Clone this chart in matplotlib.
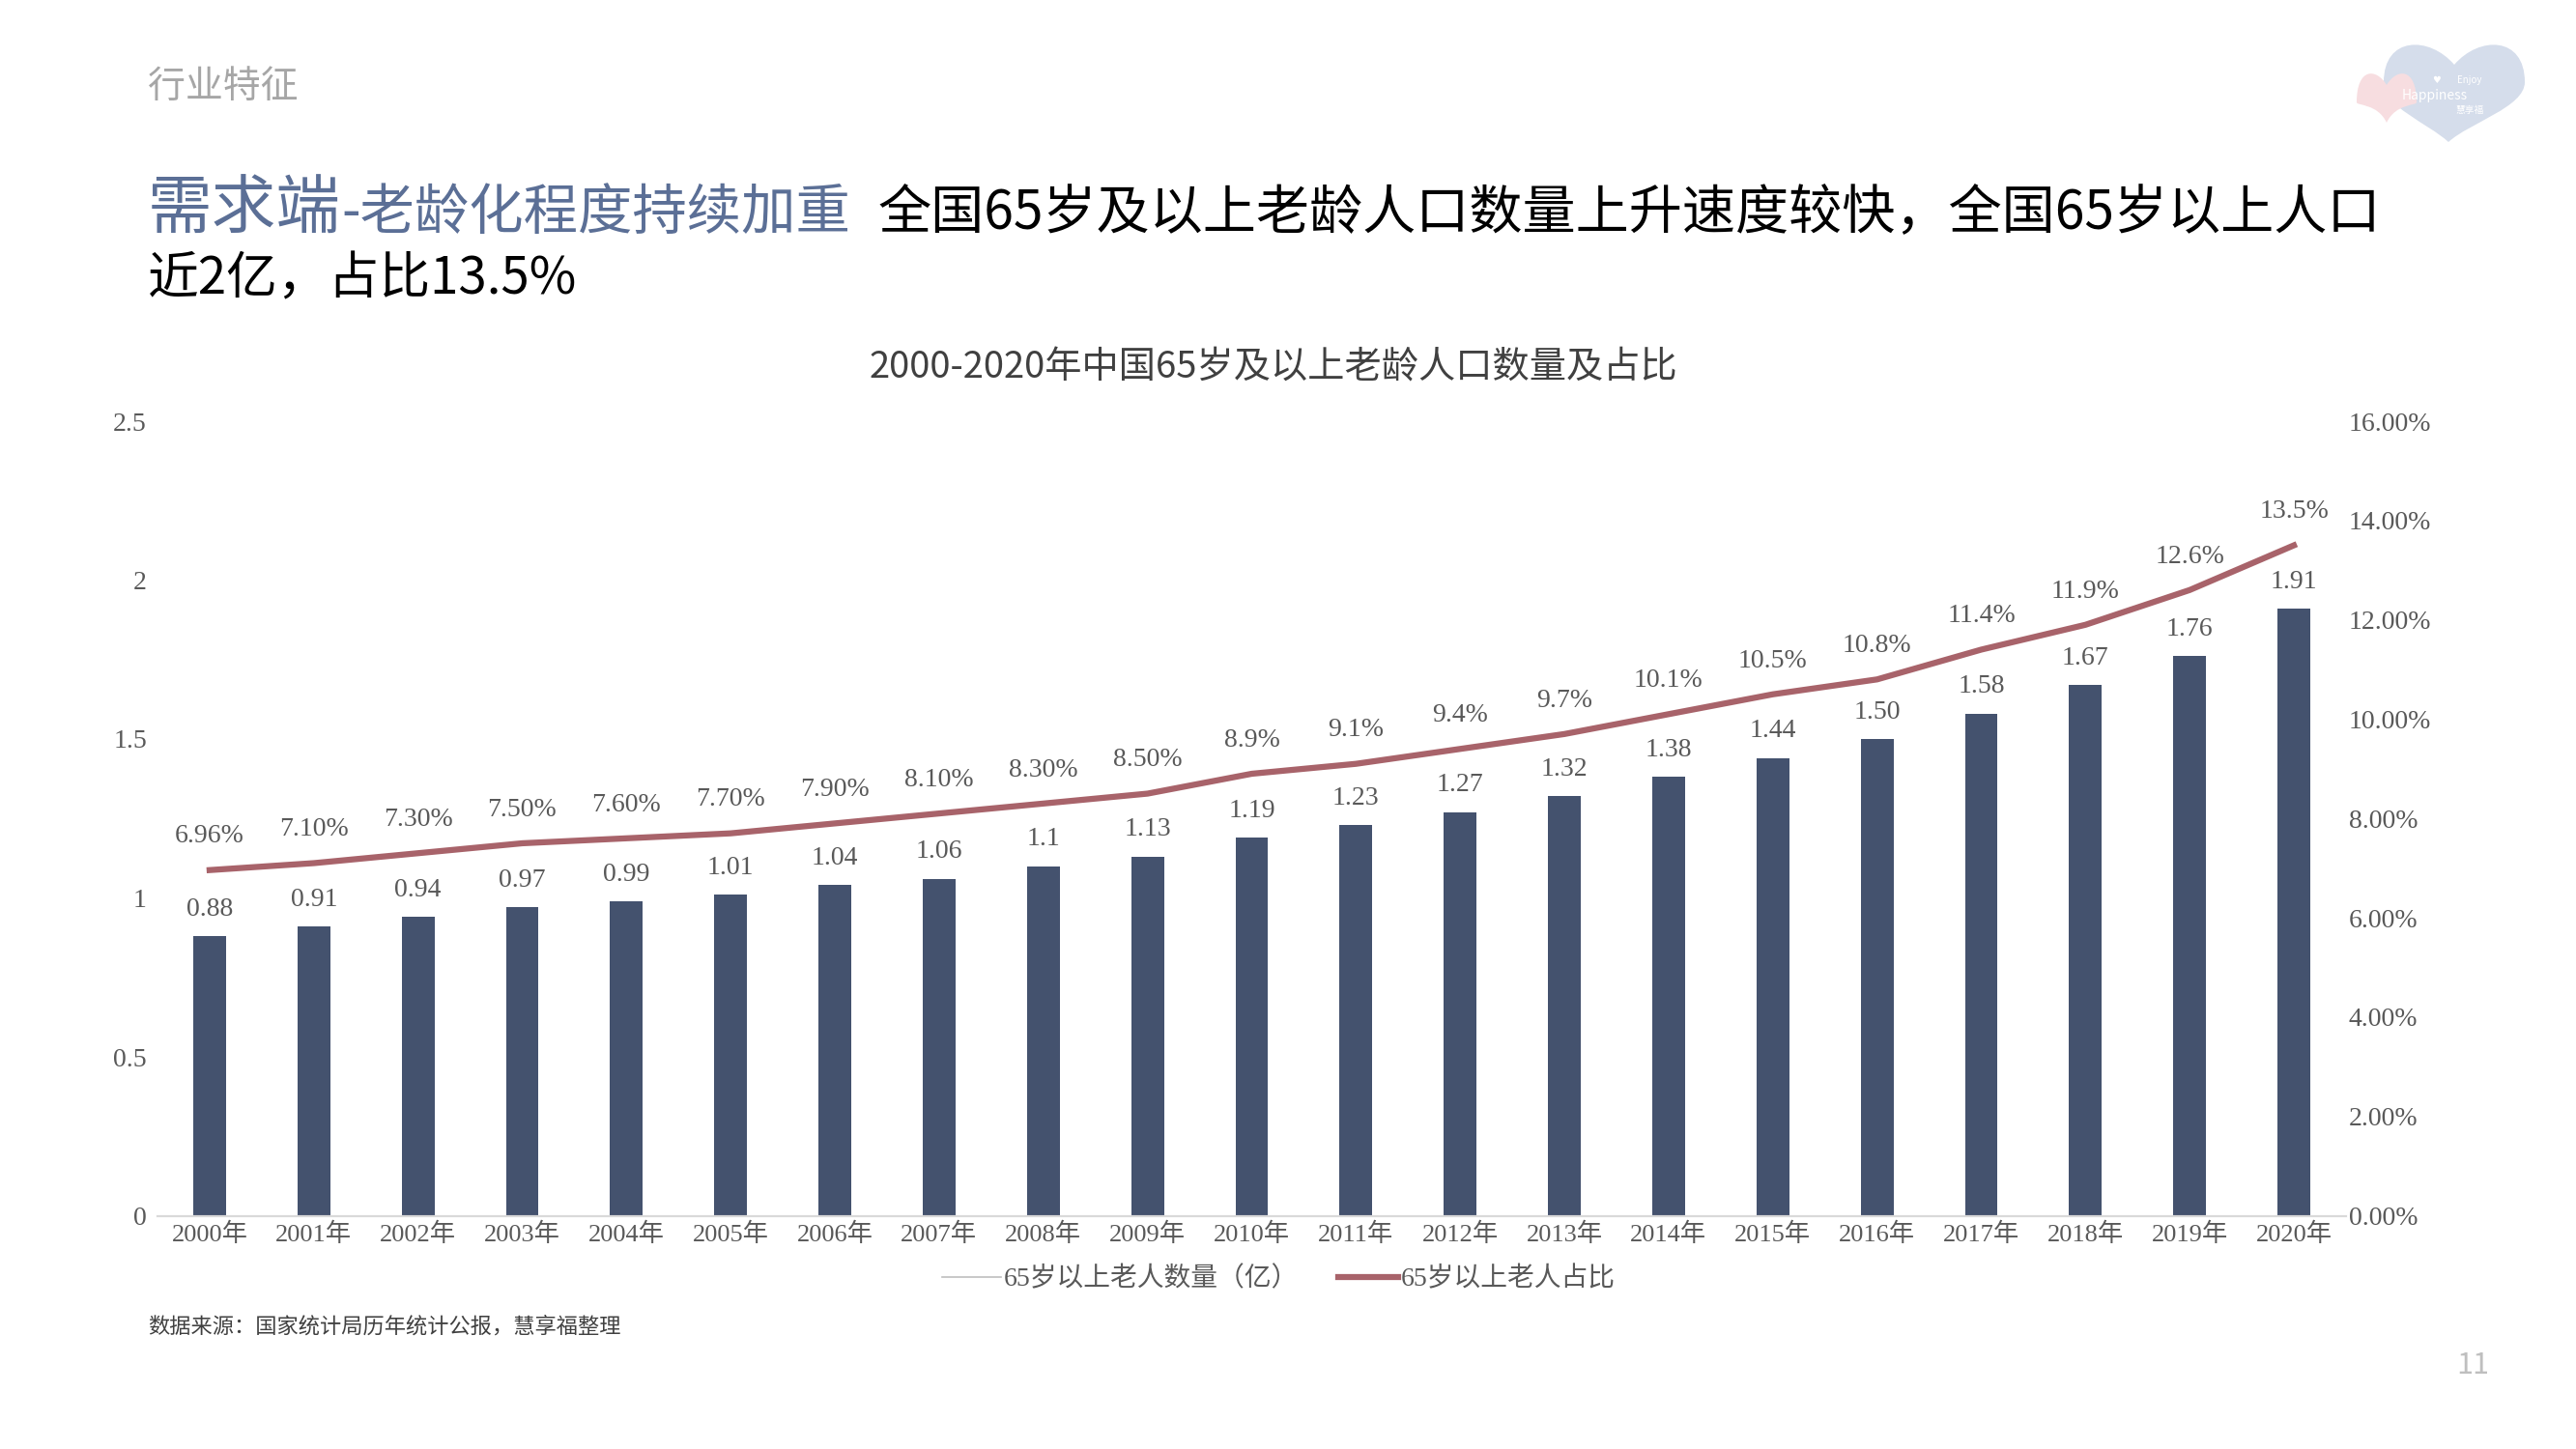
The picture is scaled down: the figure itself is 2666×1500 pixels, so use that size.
"""
2000-2020 China 65+ population slide, bars plus share line on a second axis.
"""

import matplotlib
matplotlib.use('Agg')
import matplotlib.pyplot as plt
from matplotlib.lines import Line2D
from matplotlib.patches import PathPatch
from matplotlib.path import Path

# ── Data ────────────────────────────────────────────────────────────────────
YEARS = [f"{y}年" for y in range(2000, 2021)]
POP = [0.88, 0.91, 0.94, 0.97, 0.99, 1.01, 1.04, 1.06, 1.10, 1.13, 1.19,
       1.23, 1.27, 1.32, 1.38, 1.44, 1.50, 1.58, 1.67, 1.76, 1.91]
POP_LABELS = ['0.88', '0.91', '0.94', '0.97', '0.99', '1.01', '1.04', '1.06', '1.1', '1.13', '1.19',
              '1.23', '1.27', '1.32', '1.38', '1.44', '1.50', '1.58', '1.67', '1.76', '1.91']
SHARE = [6.96, 7.1, 7.3, 7.5, 7.6, 7.7, 7.9, 8.1, 8.3, 8.5, 8.9,
         9.1, 9.4, 9.7, 10.1, 10.5, 10.8, 11.4, 11.9, 12.6, 13.5]
SHARE_LABELS = ['6.96%', '7.10%', '7.30%', '7.50%', '7.60%', '7.70%', '7.90%', '8.10%', '8.30%', '8.50%', '8.9%',
                '9.1%', '9.4%', '9.7%', '10.1%', '10.5%', '10.8%', '11.4%', '11.9%', '12.6%', '13.5%']
LEFT_TICKS = [0, 0.5, 1, 1.5, 2, 2.5]
LEFT_LABELS = ['0', '0.5', '1', '1.5', '2', '2.5']
RIGHT_TICKS = [0, 2, 4, 6, 8, 10, 12, 14, 16]
RIGHT_LABELS = ['0.00%', '2.00%', '4.00%', '6.00%', '8.00%', '10.00%', '12.00%', '14.00%', '16.00%']

# ── Config ──────────────────────────────────────────────────────────────────
W, H = 2666, 1500
SANS = ['Noto Sans CJK SC', 'DejaVu Sans']
SERIF = ['Liberation Serif', 'Noto Sans CJK SC']
BAR = '#44526E'
LINE = '#A8636A'
TICK = '#595959'
HEAD = '#5B6F96'

plt.rcParams['font.family'] = SANS

def put(x, y, s, **kw):
    # x, y in output pixels from the top left
    return fig.text(x / W, 1 - y / H, s, **kw)

fig = plt.figure(figsize=(W / 100, H / 100), dpi=100, facecolor='white')
ax = fig.add_axes([163 / W, 1 - 1258.5 / H, (2428 - 163) / W, (1258.5 - 436) / H])
ax2 = ax.twinx()

x = list(range(len(YEARS)))
ax.bar(x, POP, width=0.315, color=BAR, zorder=2)
ax.set_xlim(-0.5, 20.5)
ax.set_ylim(0, 2.5)
ax.set_xticks(x)
ax.set_xticklabels(YEARS, family=SERIF, fontsize=19, color=TICK)
ax.set_yticks(LEFT_TICKS)
ax.set_yticklabels(LEFT_LABELS, family=SERIF, fontsize=20, color=TICK)

ax2.plot(x, SHARE, color=LINE, linewidth=4.5, zorder=3)
ax2.set_ylim(0, 16)
ax2.set_yticks(RIGHT_TICKS)
ax2.set_yticklabels(RIGHT_LABELS, family=SERIF, fontsize=20, color=TICK)

for a in (ax, ax2):
    for side in ('top', 'left', 'right'):
        a.spines[side].set_visible(False)
    a.spines['bottom'].set_color('#D9D9D9')
    a.spines['bottom'].set_linewidth(1.5)
    a.tick_params(length=0)
ax.tick_params(axis='x', pad=5)
ax.tick_params(axis='y', pad=8)
ax2.tick_params(axis='y', pad=2)

for i in x:
    ax.annotate(POP_LABELS[i], (i, POP[i]), xytext=(0, 11), textcoords='offset points',
                ha='center', va='bottom', family=SERIF, fontsize=20, color=TICK)
    ax2.annotate(SHARE_LABELS[i], (i, SHARE[i]), xytext=(0, 16), textcoords='offset points',
                 ha='center', va='bottom', family=SERIF, fontsize=20, color=TICK)

handles = [Line2D([], [], color='#BFBFBF', linewidth=1.2),
           Line2D([], [], color=LINE, linewidth=4.5)]
fig.legend(handles, ['65岁以上老人数量（亿）', '65岁以上老人占比'], ncols=2, frameon=False,
           loc='center', bbox_to_anchor=(1323 / W, 1 - 1324 / H),
           prop={'family': SERIF, 'size': 20}, labelcolor=TICK,
           handlelength=2.2, handletextpad=0.1, columnspacing=1.5)

# ── Slide text ──────────────────────────────────────────────────────────────
put(153, 90, '行业特征', fontsize=28, color='#A6A6A6', va='center')
put(153, 237, '需求端', fontsize=48, color=HEAD, va='baseline')
put(353, 237, '-老龄化程度持续加重', fontsize=40.6, color=HEAD, va='baseline')
put(909, 237, '全国65岁及以上老龄人口数量上升速度较快，全国65岁以上人口', fontsize=39.7,
    color='black', va='baseline')
put(153, 305, '近2亿，占比13.5%', fontsize=38, color='black', va='baseline')
put(1318, 381, '2000-2020年中国65岁及以上老龄人口数量及占比', fontsize=27.5, color='#404040',
    ha='center', va='center')
put(153, 1373, '数据来源：国家统计局历年统计公报，慧享福整理', fontsize=16, color='#404040', va='center')
put(2559, 1414, '11', fontsize=22, color='#BFBFBF', ha='center', va='center')

# ── Logo hearts ─────────────────────────────────────────────────────────────
logo = fig.add_axes([0, 0, 1, 1], facecolor='none', zorder=5)
logo.set_xlim(0, W)
logo.set_ylim(H, 0)
logo.axis('off')

def heart(cx, top, notch, bottom, half, tip_dx=0, **kw):
    verts = [(cx, notch),
             (cx - half * 0.35, top - 10), (cx - half, top - 10), (cx - half, notch + 18),
             (cx - half, notch + (bottom - notch) * 0.55), (cx + tip_dx - half * 0.3, bottom - 20), (cx + tip_dx, bottom),
             (cx + tip_dx + half * 0.3, bottom - 20), (cx + half, notch + (bottom - notch) * 0.55), (cx + half, notch + 18),
             (cx + half, top - 10), (cx + half * 0.35, top - 10), (cx, notch)]
    codes = [Path.MOVETO] + [Path.CURVE4] * 12
    logo.add_patch(PathPatch(Path(verts, codes), linewidth=0, **kw))

heart(2540, 47, 67, 147, 73, tip_dx=-6, color='#D5DDEB')
heart(2470, 80, 88, 127, 31, color='#F7DDE0')
logo.text(2522, 83, '♥', fontsize=7, color='white', ha='center', va='center', family='DejaVu Sans')
logo.text(2556, 83, 'Enjoy', fontsize=7, color='white', ha='center', va='center', style='italic')
logo.text(2520, 99, 'Happiness', fontsize=10, color='white', ha='center', va='center', style='italic')
logo.text(2556, 114, '慧享福', fontsize=7, color='white', ha='center', va='center')

fig.savefig('out.png', dpi=100, facecolor='white')
